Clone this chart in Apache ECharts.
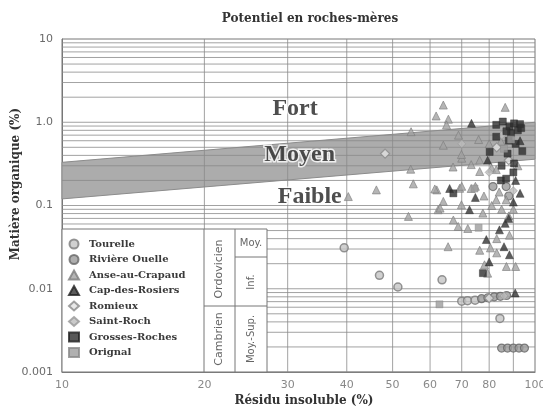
<!DOCTYPE html>
<html>
<head>
<meta charset="utf-8">
<script src="https://cdn.jsdelivr.net/npm/echarts@6/dist/echarts.min.js"></script>
<style>
html,body{margin:0;padding:0;background:#fff;}
#chart{width:543px;height:417px;}
</style>
</head>
<body>
<div id="chart"></div>
<script>
// ---- Data ----
const seriesNames = ['Tourelle','Rivière Ouelle','Anse-au-Crapaud','Cap-des-Rosiers','Romieux','Saint-Roch','Grosses-Roches','Orignal'];

const tourelle = [[39.5,0.031],[46.9,0.0145],[51.3,0.0105],[63.6,0.0128],[84.3,0.0044],[70,0.0071],[72,0.0072],[74.7,0.0073]];
const riviereOuelle = [[85,0.00194],[87.5,0.00194],[90,0.00194],[92.5,0.00194],[95,0.00194],[77.1,0.0076],[79.5,0.0078],[82,0.008],[84.5,0.0081],[87.1,0.0083],[81.5,0.169],[86.9,0.169],[88,0.13]];
const anseAuCrapaud = [[40.3,0.128],[46.2,0.154],[54.7,0.77],[54.6,0.273],[55.3,0.182],[54,0.074],
  [61.8,1.19],[64,1.61],[65.6,1.09],[65,0.93],[64,0.53],[67.1,0.29],[70,0.37],[69.9,0.41],[73.3,0.31],
  [76.4,0.35],[76.4,0.256],[81,0.28],[82.8,0.27],[74.8,0.17],[62,0.154],[61.4,0.158],[69.3,0.161],
  [73.3,0.16],[82.8,0.117],[86.9,0.117],[64,0.112],[62.4,0.089],[69.9,0.102],[77.6,0.081],[67.2,0.067],
  [68.8,0.056],[72.1,0.053],[88.3,0.044],[65.5,0.032],[76.4,0.029],[80.5,0.031],[83,0.027],[78.2,0.0194],
  [79.4,0.0154],[87,0.0185],[91,0.0185],[86.5,1.51],[68.9,0.70],[70,0.17],[76,0.62],[80,0.55],[84.7,0.59],
  [63,0.093],[81,0.1],[85,0.09],[88,0.075],[84,0.145],[78,0.13],[92,0.3],[90,0.09],[83,0.04]];
const capDesRosiers = [[66,0.16],[74.8,0.125],[72.7,0.089],[84.1,0.051],[86.5,0.061],[78.9,0.039],[88.3,0.0256],
  [90.8,0.0089],[73.4,0.97],[79.4,0.35],[88,0.07],[91,0.2],[93,0.14],[90,0.11],[86,0.032],[80,0.021],[93,0.6]];
const romieux = [[48.2,0.42],[83,0.5],[88,0.35],[80,0.0077]];
const saintRoch = [[86,0.0082],[80,0.25],[90,0.15],[85,0.7],[70,0.55]];
const grossesRoches = [[67.2,0.14],[82.8,0.93],[85.5,1.02],[88.3,0.89],[90.3,0.97],[89,0.74],[82.8,0.67],
  [80.2,0.44],[87.5,0.42],[90.3,0.32],[84.7,0.2],[86.9,0.21],[77.6,0.0154],[93,0.95],[92,0.8],[91,0.55],
  [88,0.6],[93.5,0.85],[90,0.25],[85,0.3],[87,0.78],[94,0.45]];
const orignal = [[62.8,0.0065],[76,0.054],[74.5,0.16],[86,0.48],[89,0.62]];

// band "Moyen" limits
const bandTop = [[10,0.33],[100,1.0]];
const bandBottom = [[10,0.12],[100,0.36]];

// zone labels
const zoneLabels = [
  {name:'Fort', value:[31.1,1.445]},
  {name:'Moyen', value:[31.8,0.405]},
  {name:'Faible', value:[33.4,0.127]}
];

// ticks
const xTicks = [10,20,30,40,50,60,70,80,100];
const xTickLabels = ['10','20','30','40','50','60','70','80','100'];
const yTicks = [0.001,0.01,0.1,1,10];
const yTickLabels = ['0.001','0.01','0.1','1.0','10'];
const xGridValues = [20,30,40,50,60,70,80,90];
const yDecades = [0.001,0.01,0.1,1];
const yMultipliers = [1,2,3,4,5,6,7,8,9];

// ---- Chart ----
const chart = echarts.init(document.getElementById('chart'), null, {renderer:'canvas'});

const yGridValues = [];
yDecades.forEach(d => yMultipliers.forEach(m => yGridValues.push(+(d*m).toPrecision(3))));

const serif = 'DejaVu Serif';
const gridStroke = '#8a8a8a';
const styles = {
  'Tourelle': {symbol:'circle', size:8, itemStyle:{color:'#c4c4c4', borderColor:'#7a7a7a', borderWidth:1.5}},
  'Rivière Ouelle': {symbol:'circle', size:8, itemStyle:{color:'#9a9a9a', borderColor:'#666', borderWidth:1.2}},
  'Anse-au-Crapaud': {symbol:'triangle', size:8, itemStyle:{color:'#a2a2a2', borderColor:'#7d7d7d', borderWidth:0.8}},
  'Cap-des-Rosiers': {symbol:'triangle', size:8, itemStyle:{color:'#333', borderColor:'#222', borderWidth:0.5}},
  'Romieux': {symbol:'diamond', size:9, itemStyle:{color:'#e2e2e2', borderColor:'#888', borderWidth:1.2}},
  'Saint-Roch': {symbol:'diamond', size:8, itemStyle:{color:'#bdbdbd', borderColor:'#999', borderWidth:0.8}},
  'Grosses-Roches': {symbol:'rect', size:7, itemStyle:{color:'#2e2e2e', borderColor:'#222', borderWidth:0.5}},
  'Orignal': {symbol:'rect', size:7, itemStyle:{color:'#9c9c9c', borderColor:'#888', borderWidth:0.5}}
};
const dataMap = {
  'Tourelle': tourelle, 'Rivière Ouelle': riviereOuelle, 'Anse-au-Crapaud': anseAuCrapaud,
  'Cap-des-Rosiers': capDesRosiers, 'Romieux': romieux, 'Saint-Roch': saintRoch,
  'Grosses-Roches': grossesRoches, 'Orignal': orignal
};

const dataSeries = seriesNames.map(n => ({
  name: n, type: 'scatter', z: 2,
  symbol: styles[n].symbol, symbolSize: styles[n].size,
  itemStyle: styles[n].itemStyle,
  data: dataMap[n], silent: true, animation: false
}));

const option = {
  animation: false,
  backgroundColor: '#fff',
  grid: {left: 62, right: 8, top: 39, bottom: 45, show: true, borderColor: '#777', borderWidth: 1},
  xAxis: {
    type: 'log', logBase: 10, min: 10, max: 100,
    axisLine: {show: true, lineStyle: {color: '#777'}},
    axisTick: {show: false}, axisLabel: {show: false}, splitLine: {show: false}
  },
  yAxis: {
    type: 'log', logBase: 10, min: 0.001, max: 10,
    axisLine: {show: true, lineStyle: {color: '#777'}},
    axisTick: {show: false}, splitLine: {show: false},
    axisLabel: {
      margin: 9, color: '#6a6a6a', fontFamily: 'DejaVu Sans', fontSize: 11,
      formatter: v => {
        const i = yTicks.findIndex(t => Math.abs(Math.log10(t) - Math.log10(v)) < 1e-6);
        return i >= 0 ? yTickLabels[i] : '';
      }
    }
  },
  legend: {
    data: seriesNames, orient: 'vertical', left: 63, top: 233,
    itemWidth: 10, itemHeight: 9, itemGap: 3.5, selectedMode: false, z: 5,
    textStyle: {fontFamily: serif, fontWeight: 'bold', fontSize: 10, color: '#3a3a3a', lineHeight: 12, padding: [0,0,0,5]}
  },
  graphic: [
    {type:'rect', z: 3, shape:{x:62, y:229, width:205, height:143}, style:{fill:'#fff', stroke:'#777', lineWidth:1}},
    {type:'line', z: 3, shape:{x1:204, y1:229, x2:204, y2:372}, style:{stroke:'#777', lineWidth:1}},
    {type:'line', z: 3, shape:{x1:235, y1:229, x2:235, y2:372}, style:{stroke:'#777', lineWidth:1}},
    {type:'line', z: 3, shape:{x1:204, y1:306, x2:267, y2:306}, style:{stroke:'#777', lineWidth:1}},
    {type:'line', z: 3, shape:{x1:235, y1:257, x2:267, y2:257}, style:{stroke:'#777', lineWidth:1}},
    {type:'text', z: 4, x:219.5, y:269, rotation: Math.PI/2, style:{text:'Ordovicien', fill:'#666', font:'11px "DejaVu Sans"', align:'center', verticalAlign:'middle'}},
    {type:'text', z: 4, x:219.5, y:339, rotation: Math.PI/2, style:{text:'Cambrien', fill:'#666', font:'11px "DejaVu Sans"', align:'center', verticalAlign:'middle'}},
    {type:'text', z: 4, x:251, y:243, style:{text:'Moy.', fill:'#666', font:'10px "DejaVu Sans"', align:'center', verticalAlign:'middle'}},
    {type:'text', z: 4, x:251, y:282, rotation: Math.PI/2, style:{text:'Inf.', fill:'#666', font:'10px "DejaVu Sans"', align:'center', verticalAlign:'middle'}},
    {type:'text', z: 4, x:251, y:339, rotation: Math.PI/2, style:{text:'Moy.-Sup.', fill:'#666', font:'10px "DejaVu Sans"', align:'center', verticalAlign:'middle'}},
    {type:'text', z: 4, x:310, y:19, style:{text:'Potentiel en roches-mères', fill:'#333', font:'bold 12px "DejaVu Serif"', align:'center', verticalAlign:'middle'}},
    {type:'text', z: 4, x:304, y:401, style:{text:'Résidu insoluble (%)', fill:'#333', font:'bold 12px "DejaVu Serif"', align:'center', verticalAlign:'middle'}},
    {type:'text', z: 4, x:16, y:184, rotation: Math.PI/2, style:{text:'Matière organique (%)', fill:'#333', font:'bold 12px "DejaVu Serif"', align:'center', verticalAlign:'middle'}}
  ],
  series: [
    {
      type: 'custom', name: 'band', z: 1, silent: true,
      data: [[10, 0.33]],
      renderItem: (params, api) => {
        const pts = bandTop.map(p => api.coord(p)).concat(bandBottom.slice().reverse().map(p => api.coord(p)));
        return {type: 'polygon', shape: {points: pts}, style: {fill: '#acacac', stroke: '#8c8c8c', lineWidth: 1}};
      }
    },
    {
      type: 'custom', name: 'vgrid', z: 1, silent: true,
      data: xGridValues.map(v => [v, 1]),
      renderItem: (params, api) => {
        const x = api.coord([api.value(0), 1])[0];
        const r = params.coordSys;
        return {type: 'line', shape: {x1: x, y1: r.y, x2: x, y2: r.y + r.height}, style: {stroke: gridStroke, lineWidth: 0.8}};
      }
    },
    {
      type: 'custom', name: 'hgrid', z: 1, silent: true,
      data: yGridValues.map(v => [20, v]),
      renderItem: (params, api) => {
        const y = api.coord([20, api.value(1)])[1];
        const r = params.coordSys;
        return {type: 'line', shape: {x1: r.x, y1: y, x2: r.x + r.width, y2: y}, style: {stroke: gridStroke, lineWidth: 0.8}};
      }
    },
    {
      type: 'scatter', name: 'ticks', z: 1, silent: true, symbolSize: 0,
      data: xTicks.map(v => [v, 0.001]),
      label: {
        show: true, position: 'bottom', distance: 8,
        color: '#6a6a6a', fontFamily: 'DejaVu Sans', fontSize: 11,
        formatter: p => xTickLabels[p.dataIndex]
      }
    },
    ...dataSeries,
    {
      type: 'scatter', name: 'zones', z: 6, silent: true, symbolSize: 0,
      data: zoneLabels,
      label: {
        show: true, position: 'inside', formatter: '{b}',
        fontFamily: 'Liberation Serif', fontWeight: 'bold', fontSize: 24, color: '#222',
        textBorderColor: '#fff', textBorderWidth: 3
      }
    }
  ]
};
chart.setOption(option);
</script>
</body>
</html>
